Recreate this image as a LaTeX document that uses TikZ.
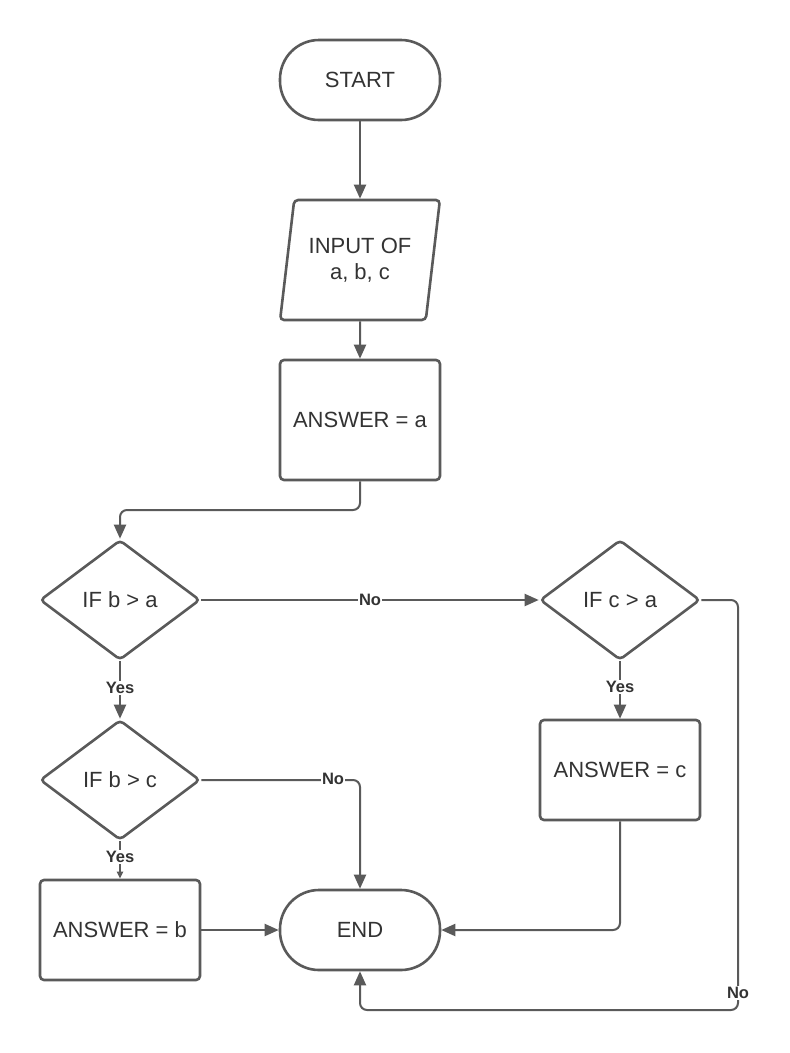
\documentclass[tikz,border=0pt]{standalone}
\usepackage{fontspec}
\setmainfont{Liberation Sans}
\usetikzlibrary{shapes.geometric,arrows.meta}
\definecolor{ln}{HTML}{5A5A5A}
\definecolor{tx}{HTML}{333333}
\begin{document}
\begin{tikzpicture}[x=1pt,y=-1pt,
  box/.style={draw=ln, line width=2.6pt, text=tx, font=\fontsize{22}{26}\selectfont, align=center, inner sep=0pt},
  term/.style={box, rectangle, rounded corners=39pt, minimum width=160pt, minimum height=80pt},
  io/.style={box, trapezium, trapezium left angle=76, trapezium right angle=104, trapezium stretches=true, minimum width=160pt, minimum height=120pt, rounded corners=4pt},
  proc/.style={box, rectangle, rounded corners=4pt, minimum width=160pt, minimum height=120pt},
  dec/.style={box, diamond, minimum width=160pt, minimum height=120pt, rounded corners=4pt},
  conn/.style={draw=ln, line width=2pt, rounded corners=7pt, -{Triangle[length=14pt,width=12pt]}},
  lab/.style={fill=white, text=tx, font=\fontsize{16.5}{19}\selectfont\bfseries, inner sep=1pt}
]
\useasboundingbox (0,0) rectangle (790,1053);
\fill[white] (0,0) rectangle (790,1053);

\node[term] (start) at (360,80) {START};
\node[io] (input) at (360,260) {INPUT OF\\a, b, c};
\node[proc] (ansa) at (360,420) {ANSWER = a};
\node[dec] (ba) at (120,600) {IF b > a};
\node[dec] (ca) at (620,600) {IF c > a};
\node[dec] (bc) at (120,780) {IF b > c};
\node[proc, minimum height=100pt] (ansb) at (120,930) {ANSWER = b};
\node[proc, minimum height=100pt] (ansc) at (620,770) {ANSWER = c};
\node[term] (end) at (360,930) {END};

\coordinate (j1) at (120,510);
\coordinate (r1) at (738,1010);

\draw[conn] (start) -- (input);
\draw[conn] (input) -- (ansa);
\draw[conn] (ansa.south) |- (j1) -- (ba.north);
\draw[conn] (ba.east) -- (ca.west);
\draw[conn] (ca.east) -| (r1) -| (end.south);
\draw[conn] (bc.east) -| (end.north);
\draw[conn] (ba.south) -- (bc.north);
\draw[conn, -{Triangle[length=7pt,width=6pt]}] (bc.south) -- (ansb.north);
\draw[conn] (ca.south) -- (ansc.north);
\draw[conn] (ansb.east) -- (end.west);
\draw[conn] (ansc.south) |- (end.east);

\node[lab] (n1) at (370,600) {No};
\node[lab] (n2) at (333,779) {No};
\node[lab] (n3) at (738,993) {No};
\node[lab] (y1) at (120,688) {Yes};
\node[lab] (y2) at (120,857) {Yes};
\node[lab] (y3) at (620,687) {Yes};
\end{tikzpicture}
\end{document}
